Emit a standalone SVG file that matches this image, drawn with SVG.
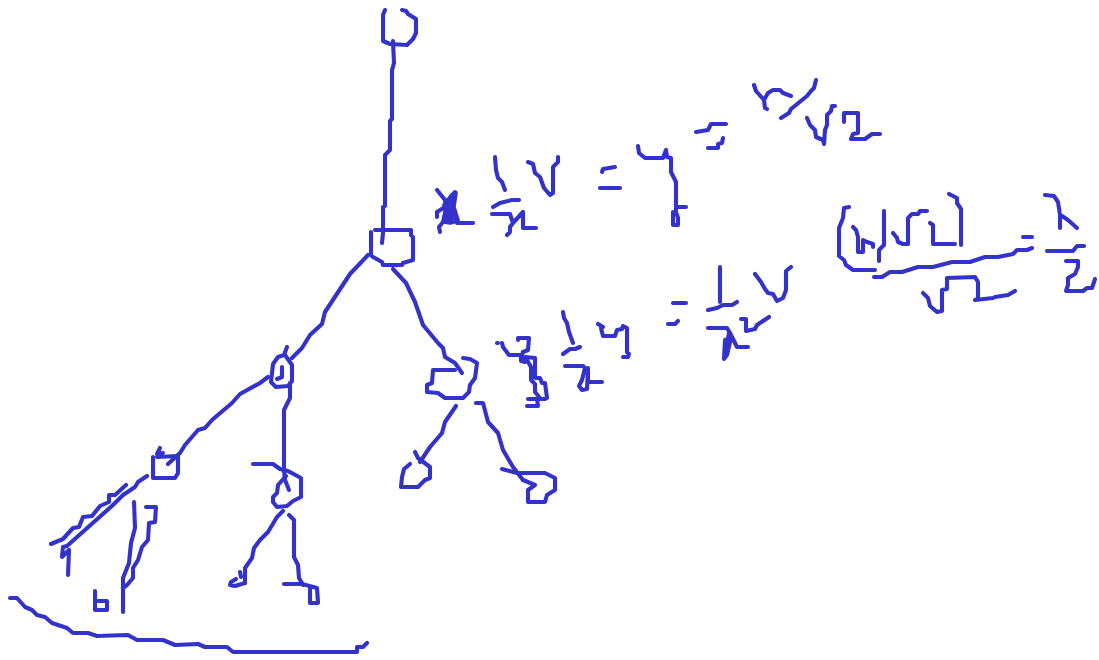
<svg xmlns="http://www.w3.org/2000/svg" width="1099" height="660" viewBox="0 0 1099 660">
<style>
path{fill:none;stroke:#3333cc;stroke-width:4.1;stroke-linecap:round;stroke-linejoin:round}
.fat{stroke-width:5.5}
</style>
<rect width="1099" height="660" fill="#ffffff"/>
<g id="connectors">
<path d="M393 41L394 63L392 70L392 119L390 121L390 150L385 155L385 206L383 207L383 233L382 243"/>
<path d="M368 255L350 274L325 312L322 324L310 335L302 348L292 358"/>
<path d="M393 269L406 283L415 302L423 325L438 343L443 348L445 357L455 363L462 373"/>
<path d="M268 377L260 383L240 394L232 403L212 420L205 428L198 430L185 445L180 453L168 464"/>
<path d="M290 383L290 398L284 410L284 470L285 480L289 490"/>
<path d="M456 406L445 422L442 433L430 447L420 462"/>
<path d="M476 403L483 403L488 422L498 433L503 450L513 467L523 480"/>
<path d="M147 476L138 482L135 487L123 495L113 505L67 546"/>
<path d="M134 502L135 528L131 543L129 563L123 578L123 612"/>
<path d="M283 511L277 517L268 532L260 540L254 548L252 558L245 568L245 583"/>
<path d="M289 515L294 520L294 557L298 565L299 578L303 585"/>
</g>
<g id="node-top"><path d="M385 10L383 15L383 41L390 44L407 45L413 39L416 33L416 19L408 14L406 11L402 10"/></g>
<g id="node-root"><path d="M375 230L411 230L411 235L413 237L413 260L403 263L402 265L383 265L382 262L373 257L371 255L371 232"/></g>
<g id="node-left"><path d="M287 347L284 355L278 357L273 364L271 382L276 387L288 386L292 381L292 365L285 355"/><path d="M282 367L282 377L277 379"/></g>
<g id="node-right"><path d="M455 370L433 370L432 383L427 385L427 392L438 393L445 398L463 398L469 392L470 385L475 378L477 363L470 359L463 358"/></g>
<g id="node-left-left"><path d="M157 457L178 456L178 473L175 478L153 478L153 457"/><path d="M160 448L157 454L163 453"/></g>
<g id="node-left-right"><path d="M253 464L273 464L280 469L288 471L301 478L301 497L293 501L287 506L277 507L273 502L273 497L277 493L278 485L286 476"/></g>
<g id="node-right-left"><path d="M415 452L418 458L430 467L430 478L425 480L418 487L401 487L402 477L404 469L410 464"/></g>
<g id="node-right-right"><path d="M523 480L535 485L528 490L528 502L545 502L547 495L555 490L555 478L545 473L517 473L502 469"/></g>
<g id="leaf-1"><path d="M67 546L63 547L62 557L69 550L68 575"/><path d="M51 544L63 539L73 528L79 527L83 517L92 516L100 506L109 502L109 495L115 495L126 485"/></g>
<g id="leaf-2"><path d="M146 507L156 507L155 522L149 523L148 540L142 547L138 560L133 568L133 578L127 585L123 588"/><path d="M95 591L95 610L107 610L107 601L98 601"/></g>
<g id="leaf-3"><path d="M245 583L235 586L230 585L231 582L236 579"/><path d="M240 572L241 577"/></g>
<g id="leaf-4"><path d="M284 584L302 584L317 588L318 603L310 603L310 588"/></g>
<g id="bottom-stroke"><path d="M10 598L17 598L25 607L32 610L37 615L45 617L52 623L67 628L73 633L88 633L97 636L128 635L137 640L163 640L175 645L198 644L205 647L227 647L233 652L357 652L357 647L363 647L367 643"/></g>
<g id="eq-1">
<path class="fat" d="M445 205L452 196L455 193L453 207L457 220L450 222L444 221L447 206L452 204L450 219L453 210L448 212L446 218L451 216L447 208"/>
<path d="M437 190L445 200L447 210M445 207L437 212L437 217M443 222L439 227L440 232M457 223L473 223"/>
<path d="M495 157L496 170L498 178L502 182L505 190"/>
<path d="M528 162L533 164L535 173L540 177L544 188L550 195L553 193L553 167L558 162L558 157"/>
<path d="M493 207L500 203L512 200L519 200"/>
<path d="M492 214L510 214L513 223L510 227L510 232L507 235M513 223L523 212L523 228L536 228"/>
<path d="M602 172L603 169L615 167M600 188L620 188"/>
<path d="M638 146L639 153L645 158L663 158L666 150L667 157L671 158L671 172L676 182L676 207L676 210M676 207L686 207M673 212L673 225L678 225L678 218L676 212"/>
<path d="M696 132L708 130L711 124L726 124M708 148L718 148L718 144L722 143L723 138"/>
<path d="M754 85L756 91L764 100L765 108L767 109M764 100L768 93L773 90L780 90L783 93L791 96"/>
<path d="M781 118L789 113L791 109L807 96L811 91L814 88L816 80"/>
<path d="M807 118L810 125L815 130L816 137L823 140L824 144L825 130L827 125L827 115L831 111L832 106L835 106"/>
<path d="M844 122L844 113L858 113L858 133L853 134L851 139L865 139L872 134L880 134"/>
</g>
<g id="eq-2">
<path d="M849 207L844 208L843 218L839 228L839 256L844 260L846 265L853 270L875 270"/>
<path d="M853 227L856 230L858 237L858 252L863 252L863 240L867 242L873 244L873 247"/>
<path d="M884 211L884 245L879 250L879 261"/>
<path d="M893 233L897 238L898 242L903 244L908 244L908 218L912 214L918 214L920 211L927 211"/>
<path d="M930 223L933 225L933 244L955 244"/>
<path d="M949 194L957 198L957 203L961 209L961 245"/>
<path d="M874 277L882 277L890 272L902 272L918 267L933 267L952 262L970 262L985 257L998 257L1013 254L1017 250L1027 250L1032 248"/>
<path d="M1023 237L1032 237"/>
<path d="M923 293L928 298L930 306L937 312L942 311L942 290L947 289L947 278L975 277L978 282L978 299L975 300L993 298L995 297L1008 295L1015 291"/>
<path d="M1045 195L1054 196L1058 202L1060 215L1060 228M1062 216L1068 220L1077 228"/>
<path d="M1047 251L1073 251L1077 246L1084 246"/>
<path d="M1066 261L1078 261L1078 267L1075 274L1068 278L1068 285L1066 291L1083 291L1087 288L1092 288L1095 279"/>
</g>
<g id="eq-3">
<path d="M497 343L498 343M502 343L503 347L509 355L522 355L523 352L528 350L529 338L518 338L518 340"/>
<path d="M521 355L521 361L525 362L525 357L535 358L535 378L540 378L542 383L545 383L547 398L545 399L528 399M537 399L538 406L527 406"/>
<path d="M527 360L531 367L531 380L535 384L535 392L540 398"/>
<path d="M563 312L564 318L567 323L569 332L573 343"/>
<path d="M563 354L570 349L575 349L580 347"/>
<path d="M565 366L583 366L585 368L582 380L579 386L582 390L587 389L588 368L588 382L602 382"/>
<path d="M598 324L603 327L601 328L603 336L615 336L617 330L622 329L623 326L627 328L627 352L629 354L628 357L623 357"/>
<path d="M673 303L686 303M668 324L675 324L678 321"/>
<path d="M720 267L720 302"/>
<path d="M708 310L717 308L723 305L732 305L737 302"/>
<path d="M708 328L727 328L730 333L737 347L748 347M729 333L724 359L727 355L731 338L725 340L724 359"/>
<path d="M755 274L761 282L765 289L768 293L773 294L777 301L783 298L786 290L786 271L791 267"/>
<path d="M741 319L746 319L746 331L755 329L757 325L769 317"/>
</g>
</svg>
